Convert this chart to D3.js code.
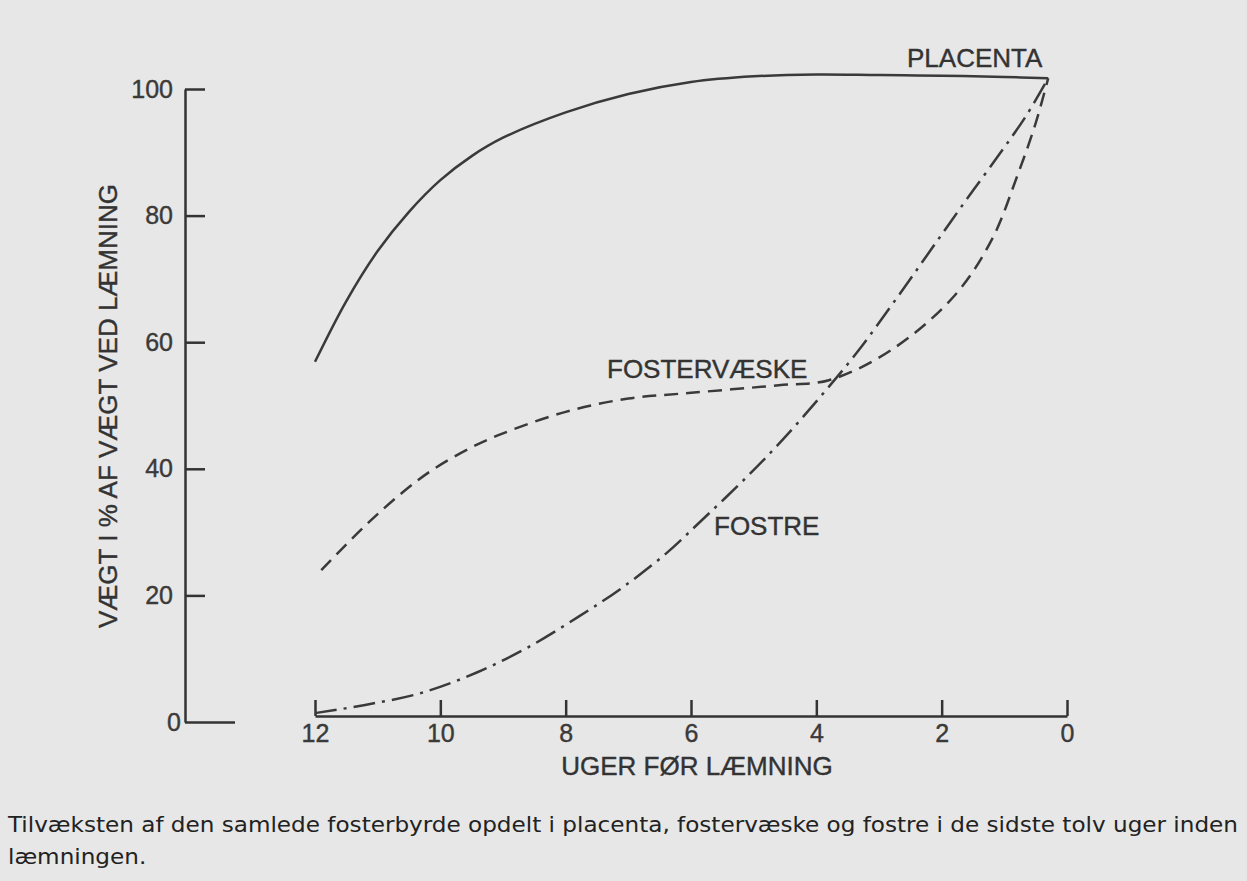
<!DOCTYPE html>
<html>
<head>
<meta charset="utf-8">
<script src="https://cdn.jsdelivr.net/npm/d3@7"></script>
<style>
    body { margin: 0; background: #e7e7e7; }
    svg { display: block; }
    .axis text { font-family: "Liberation Sans", Arial, sans-serif; font-size: 25px; fill: #3a3a3a; stroke: #3a3a3a; stroke-width: 0.4; }
    .axis path, .axis line { stroke: #333; stroke-width: 2.5; }
    .lbl { font-family: "Liberation Sans", Arial, sans-serif; font-size: 26px; fill: #333; stroke: #333; stroke-width: 0.4; }
    .caption { font-family: "DejaVu Sans Condensed", "DejaVu Sans", sans-serif; font-stretch: condensed; font-size: 21px; fill: #222; }
</style>
</head>
<body>
<div class="chart_chart"></div>
<script>
    // weeks before lambing
    const xTicks = [12, 10, 8, 6, 4, 2, 0];
    const yTicks = [0, 20, 40, 60, 80, 100];

    const placentaWeeks = [12, 11.5, 11, 10.5, 10, 9.5, 9, 8, 7, 6, 5, 4, 3, 2, 1, 0.3];
    const placentaValues = [56.9, 66.5, 74.4, 80.6, 85.6, 89.4, 92.3, 96.3, 99.2, 101.1, 102, 102.3, 102.2, 102.1, 101.9, 101.7];

    const vaeskeWeeks = [11.9, 11.2, 10.6, 10.1, 9.5, 9, 8, 7, 6, 4.6, 3.8, 2.8, 1.8, 1.2, 0.8, 0.5, 0.3];
    const vaeskeValues = [24, 31, 36.3, 40, 43.4, 45.6, 49, 51.1, 52, 53.2, 54, 58.8, 67.3, 76.2, 86.1, 94.6, 101.7];

    const fostreWeeks = [12, 11.2, 10.3, 9.4, 8.6, 7.8, 7.1, 6.4, 5.9, 5.1, 4.5, 3.9, 3.35, 2.7, 2.2, 1.65, 1.1, 0.65, 0.3];
    const fostreValues = [1.4, 2.7, 4.6, 7.9, 11.8, 16.6, 21.2, 26.6, 31.2, 38.8, 45, 51.8, 58.4, 67.2, 74.2, 81.9, 89.4, 95.8, 101.7];

    const captionLines = [
        "Tilvæksten af den samlede fosterbyrde opdelt i placenta, fostervæske og fostre i de sidste tolv uger inden",
        "læmningen."
    ];

    const width = 1247, height = 881;
    const svg = d3.select(".chart_chart").append("svg").attr("width", width).attr("height", height);

    const xScale = d3.scaleLinear().domain([12, 0]).range([315, 1067]);
    const yScale = d3.scaleLinear().domain([0, 100]).range([722, 89]);
    const xAxisY = 716;

    // y axis, ticks pointing right
    const gy = svg.append("g").attr("class", "axis").attr("transform", "translate(185,0)")
        .call(d3.axisLeft(yScale).tickValues(yTicks).tickSizeInner(-20).tickSizeOuter(0).tickPadding(12));
    const zeroTick = gy.selectAll(".tick").filter(d => d === 0);
    zeroTick.select("line").attr("x2", 50);
    zeroTick.select("text").attr("x", -4);

    // x axis, ticks pointing up
    svg.append("g").attr("class", "axis").attr("transform", `translate(0,${xAxisY})`)
        .call(d3.axisBottom(xScale).tickValues(xTicks).tickSizeInner(-16).tickSizeOuter(0).tickPadding(8));

    svg.append("text").attr("class", "lbl").attr("x", 697).attr("y", 775).attr("text-anchor", "middle")
        .text("UGER FØR LÆMNING");
    svg.append("text").attr("class", "lbl").attr("text-anchor", "middle")
        .attr("transform", "translate(117,406) rotate(-90)")
        .text("VÆGT I % AF VÆGT VED LÆMNING");

    const line = d3.line().x(d => xScale(d[0])).y(d => yScale(d[1])).curve(d3.curveCatmullRom.alpha(0.5));
    const series = [
        { w: placentaWeeks, v: placentaValues, dash: null },
        { w: vaeskeWeeks, v: vaeskeValues, dash: "14,8" },
        { w: fostreWeeks, v: fostreValues, dash: "22,7,3,7" }
    ];
    series.forEach(s => {
        svg.append("path").datum(d3.zip(s.w, s.v)).attr("d", line)
            .attr("fill", "none").attr("stroke", "#3a3a3a").attr("stroke-width", 2.5)
            .attr("stroke-dasharray", s.dash);
    });

    svg.append("text").attr("class", "lbl").attr("x", 907).attr("y", 67).text("PLACENTA");
    svg.append("text").attr("class", "lbl").attr("x", 607).attr("y", 378).text("FOSTERVÆSKE");
    svg.append("text").attr("class", "lbl").attr("x", 714).attr("y", 535).text("FOSTRE");

    // caption: stretch first line to full width, second line with same ratio
    const cap = svg.selectAll(".caption").data(captionLines).enter().append("text")
        .attr("class", "caption").attr("x", 8).attr("y", (d, i) => 832 + i * 32).text(d => d);
    const natural = cap.nodes().map(n => n.getComputedTextLength());
    const k = 1230 / natural[0];
    cap.attr("textLength", (d, i) => natural[i] * k).attr("lengthAdjust", "spacingAndGlyphs");
</script>
</body>
</html>
